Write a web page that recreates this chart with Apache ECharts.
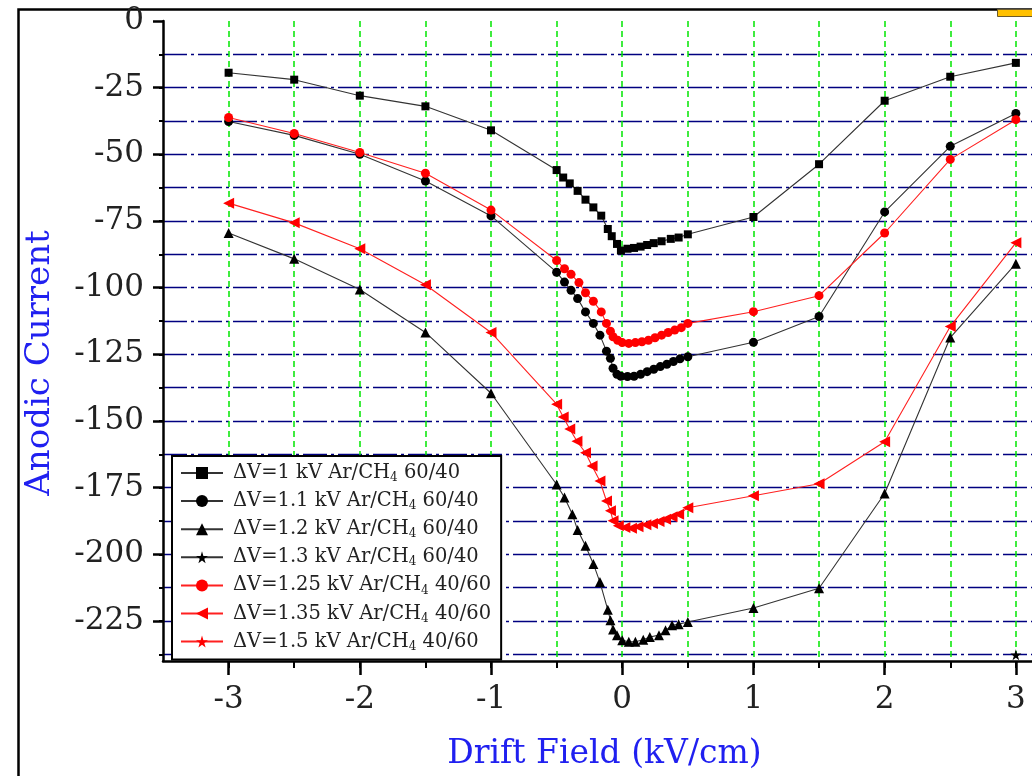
<!DOCTYPE html>
<html><head><meta charset="utf-8">
<script src="https://cdn.jsdelivr.net/npm/echarts@6/dist/echarts.min.js"></script>
<style>html,body{margin:0;padding:0;background:#fff}#c{width:1032px;height:776px}</style>
</head><body><div id="c"></div>
<script>
// ---- data ----
const seriesNames = [
  'ΔV=1 kV Ar/CH4 60/40',
  'ΔV=1.1 kV Ar/CH4 60/40',
  'ΔV=1.2 kV Ar/CH4 60/40',
  'ΔV=1.3 kV Ar/CH4 60/40',
  'ΔV=1.25 kV Ar/CH4 40/60',
  'ΔV=1.35 kV Ar/CH4 40/60',
  'ΔV=1.5 kV Ar/CH4 40/60'
];
const s1x = [-3,-2.5,-2,-1.5,-1,-0.5,-0.45,-0.4,-0.34,-0.28,-0.22,-0.16,-0.11,-0.08,-0.04,-0.01,0.04,0.09,0.14,0.19,0.24,0.3,0.37,0.43,0.5,1,1.5,2,2.5,3];
const s1y = [-19.4,-22,-28,-32,-41,-55.9,-58.7,-60.9,-63.7,-67,-69.9,-73,-78,-80.7,-83.6,-86.1,-85.4,-85.1,-84.6,-84,-83.3,-82.6,-81.7,-81.2,-80,-73.5,-53.7,-29.9,-20.9,-15.7];
const s2x = [-3,-2.5,-2,-1.5,-1,-0.5,-0.44,-0.39,-0.34,-0.28,-0.22,-0.17,-0.12,-0.09,-0.07,-0.04,-0.01,0.04,0.09,0.14,0.19,0.24,0.29,0.34,0.39,0.44,0.5,1,1.5,2,2.5,3];
const s2y = [-37.7,-42.9,-50,-60,-73.1,-94.2,-97.9,-101,-104.1,-109.1,-113.4,-117.8,-123.8,-126.5,-130.2,-132.5,-133.2,-133.3,-133.2,-132.5,-131.5,-130.6,-129.6,-128.7,-127.7,-126.7,-125.9,-120.5,-110.8,-71.6,-47,-34.7];
const s3x = [-3,-2.5,-2,-1.5,-1,-0.5,-0.44,-0.38,-0.34,-0.28,-0.22,-0.17,-0.11,-0.09,-0.07,-0.04,0,0.05,0.1,0.16,0.21,0.28,0.33,0.38,0.43,0.5,1,1.5,2,2.5,3];
const s3y = [-79.5,-89.2,-100.7,-116.8,-139.6,-173.8,-178.7,-185,-190.9,-196.8,-203.6,-210.4,-220.8,-224.7,-228.2,-230.3,-232.2,-232.8,-232.8,-232,-231,-230.3,-228.5,-226.6,-226.2,-225.4,-220.1,-212.7,-177.2,-118.7,-91];
const s4x = [3];
const s4y = [-237.7];
const s5x = [-3,-2.5,-2,-1.5,-1,-0.5,-0.44,-0.39,-0.33,-0.28,-0.22,-0.16,-0.12,-0.09,-0.07,-0.035,0,0.05,0.1,0.15,0.2,0.25,0.3,0.35,0.4,0.45,0.5,1,1.5,2,2.5,3];
const s5y = [-36.2,-42.2,-49.3,-57.1,-70.9,-89.8,-92.9,-95,-98.1,-101.9,-105.1,-109.1,-113.4,-116.3,-118.4,-119.7,-120.6,-120.9,-120.6,-120.3,-119.7,-118.8,-117.8,-116.8,-115.9,-115,-113.4,-109,-103,-79.5,-51.9,-37];
const s6x = [-3,-2.5,-2,-1.5,-1,-0.5,-0.45,-0.4,-0.345,-0.28,-0.23,-0.17,-0.12,-0.09,-0.07,-0.03,0.02,0.07,0.12,0.18,0.23,0.28,0.33,0.38,0.43,0.5,1,1.5,2,2.5,3];
const s6y = [-68.3,-75.7,-85.4,-98.9,-116.8,-143.7,-148.5,-153,-157.6,-161.9,-166.9,-172.5,-180,-183.7,-187.4,-189.3,-189.9,-190.2,-189.7,-188.9,-188.4,-187.7,-186.8,-185.9,-185,-182.5,-178,-173.5,-157.8,-114.6,-83.2];
const s7x = [];
const s7y = [];
const yMajorTicks = [0,-25,-50,-75,-100,-125,-150,-175,-200,-225];
const yMinorTicks = [-12.5,-25,-37.5,-50,-62.5,-75,-87.5,-100,-112.5,-125,-137.5,-150,-162.5,-175,-187.5,-200,-212.5,-225,-237.5];
const xMajorTicks = [-3,-2,-1,0,1,2,3];
const xMinorTicks = [-3,-2.5,-2,-1.5,-1,-0.5,0,0.5,1,1.5,2,2.5,3];
const xTitle = 'Drift Field (kV/cm)';
const yTitle = 'Anodic Current';

// ---- chart ----
const STAR = 'path://M50,0 L61,35 L98,35 L68,57 L79,91 L50,70 L21,91 L32,57 L2,35 L39,35 Z';
const FONT = 'DejaVu Serif';
const X_MIN = -3.5, X_MAX = 3.123; // visible range (right side of the original plot is cut off)
function pts(xs, ys) { return xs.map((x, i) => [x, ys[i]]); }
function mk(name, xs, ys, symbol, size, color, lineColor, rotate) {
  return {
    name, type: 'line', xAxisIndex: 0, yAxisIndex: 0,
    data: pts(xs, ys), symbol, symbolSize: size, symbolRotate: rotate || 0,
    showAllSymbol: true, animation: false,
    itemStyle: { color: color, borderWidth: 0 },
    lineStyle: { color: lineColor, width: 1.1 },
    emphasis: { disabled: true }
  };
}
const chart = echarts.init(document.getElementById('c'), null, { renderer: 'canvas' });
const axisLineStyle = { color: '#000', width: 2.5 };
chart.setOption({
  backgroundColor: '#fff',
  animation: false,
  grid: { left: 163, top: 21, right: 0, height: 643, containLabel: false },
  graphic: [
    { type: 'rect', left: 16, top: 7, shape: { x: 0, y: 0, width: 1200, height: 1000 },
      style: { fill: 'none', stroke: '#000', lineWidth: 2.5 }, z: -1 },
    { type: 'rect', left: 997, top: 9, shape: { x: 0, y: 0, width: 40, height: 7 },
      style: { fill: '#ffc000', stroke: '#6b5a2a', lineWidth: 1 } }
  ],
  legend: {
    left: 172, top: 456, orient: 'vertical',
    itemWidth: 42, itemHeight: 15, itemGap: 7.1,
    padding: [7, 10, 7, 8],
    backgroundColor: '#fff', borderColor: '#000', borderWidth: 2,
    selectedMode: false,
    data: seriesNames,
    formatter: n => '{a|' + n.replace('CH4', 'CH}{s|4}{a|') + '}',
    textStyle: {
      fontFamily: FONT, fontSize: 19.5, color: '#222', padding: [0, 0, 0, 5],
      rich: {
        a: { fontFamily: FONT, fontSize: 19.5, color: '#222', lineHeight: 22 },
        s: { fontFamily: FONT, fontSize: 12, color: '#222', lineHeight: 8, verticalAlign: 'bottom' }
      }
    }
  },
  xAxis: [
    { type: 'value', min: X_MIN, max: X_MAX, position: 'bottom',
      axisLine: { show: true, onZero: false, lineStyle: axisLineStyle },
      axisTick: { show: true, customValues: xMinorTicks, length: 7, lineStyle: { color: '#000', width: 2 } },
      axisLabel: { show: false },
      splitLine: { show: true, lineStyle: { color: '#00e600', width: 1.5, type: [6, 4] } }
    },
    { type: 'value', min: X_MIN, max: X_MAX, position: 'bottom',
      name: xTitle, nameLocation: 'middle', nameGap: 77,
      nameTextStyle: { fontFamily: FONT, fontSize: 33, color: '#2020f0', padding: [0, 0, 0, 14] },
      axisLine: { show: false, onZero: false },
      axisTick: { show: true, customValues: xMajorTicks, length: 14, lineStyle: { color: '#000', width: 2.5 } },
      axisLabel: { show: true, customValues: xMajorTicks, margin: 23, fontFamily: FONT, fontSize: 31, color: '#222',
        formatter: v => String(v) },
      splitLine: { show: false }
    }
  ],
  yAxis: [
    { type: 'value', min: -240, max: 0, position: 'left',
      axisLine: { show: true, onZero: false, lineStyle: axisLineStyle },
      axisTick: { show: true, customValues: yMinorTicks, length: 4, lineStyle: { color: '#000', width: 2 } },
      axisLabel: { show: false },
      splitLine: { show: true, lineStyle: { color: '#000080', width: 1.3, type: [24, 4, 3, 4] } }
    },
    { type: 'value', min: -240, max: 0, position: 'left',
      name: yTitle, nameLocation: 'middle', nameGap: 106,
      nameTextStyle: { fontFamily: FONT, fontSize: 34, color: '#2020f0', padding: [0, 44, 0, 0] },
      axisLine: { show: false, onZero: false },
      axisTick: { show: true, customValues: yMajorTicks, length: 10, lineStyle: { color: '#000', width: 2.5 } },
      axisLabel: { show: true, customValues: yMajorTicks, margin: 19, fontFamily: FONT, fontSize: 31, color: '#222',
        formatter: v => String(v) },
      splitLine: { show: false }
    }
  ],
  series: [
    mk(seriesNames[0], s1x, s1y, 'rect', 8, '#000', '#333'),
    mk(seriesNames[1], s2x, s2y, 'circle', 9, '#000', '#333'),
    mk(seriesNames[2], s3x, s3y, 'triangle', 10, '#000', '#333'),
    mk(seriesNames[3], s4x, s4y, STAR, 11, '#000', '#333'),
    mk(seriesNames[4], s5x, s5y, 'circle', 9, '#ff0000', '#ff2020'),
    mk(seriesNames[5], s6x, s6y, 'triangle', 11, '#ff0000', '#ff2020', 90),
    mk(seriesNames[6], s7x, s7y, STAR, 11, '#ff0000', '#ff2020')
  ]
});
</script>
</body></html>
